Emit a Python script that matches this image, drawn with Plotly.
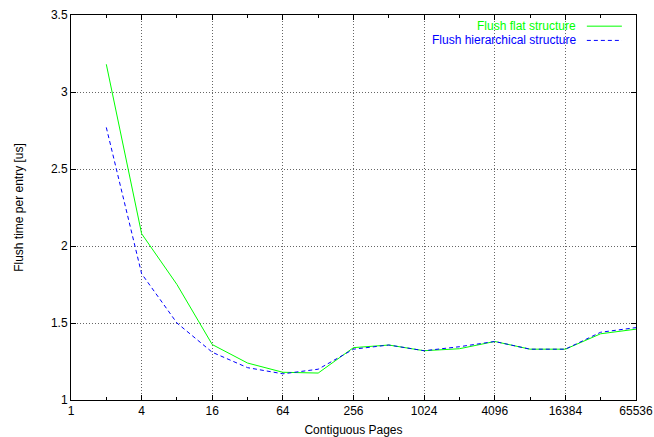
import plotly.graph_objects as go

pages = [2, 4, 8, 16, 32, 64, 128, 256, 512, 1024, 2048, 4096, 8192, 16384, 32768, 65536]
flat = [3.18, 2.08, 1.75, 1.36, 1.24, 1.18, 1.175, 1.34, 1.357, 1.32, 1.333, 1.38, 1.33, 1.33, 1.43, 1.46]
hier = [2.77, 1.82, 1.50, 1.31, 1.21, 1.17, 1.20, 1.33, 1.357, 1.32, 1.346, 1.38, 1.33, 1.33, 1.44, 1.47]
x_ticks = [1, 4, 16, 64, 256, 1024, 4096, 16384, 65536]
x_minor = [2, 8, 32, 128, 512, 2048, 8192, 32768]
y_ticks = [1, 1.5, 2, 2.5, 3, 3.5]
names = ["Flush flat structure", "Flush hierarchical structure"]
colors = ["#00ff00", "#0000ff"]
dashes = ["solid", "4px,3px"]

FONT = "Liberation Sans, Arial, Helvetica, sans-serif"

fig = go.Figure()
for vals, name, col, dsh in zip([flat, hier], names, colors, dashes):
    fig.add_trace(go.Scatter(x=pages, y=vals, mode="lines", name=name,
                             line=dict(color=col, width=1, dash=dsh),
                             showlegend=False))

# legend (text right-aligned, sample line on the right, as gnuplot does)
for i, (name, col, dsh) in enumerate(zip(names, colors, dashes)):
    yp = 0.971 - i * 0.037
    fig.add_annotation(xref="paper", yref="paper", x=0.897, y=yp, text=name,
                       showarrow=False, xanchor="right", yanchor="middle",
                       font=dict(color=col, size=12, family=FONT))
    fig.add_shape(type="line", xref="paper", yref="paper", x0=0.913, x1=0.975,
                  y0=yp, y1=yp, line=dict(color=col, width=1, dash=dsh))

axis_common = dict(showline=True, linecolor="black", linewidth=1, mirror="ticks",
                   ticks="inside", ticklen=5, tickcolor="black", automargin=False,
                   showgrid=True, gridcolor="#666666", griddash="1px,2px", gridwidth=1,
                   zeroline=False, tickfont=dict(size=12, family=FONT, color="black"))

fig.update_xaxes(type="log", range=[0, 4.81648], tickmode="array", tickvals=x_ticks,
                 ticktext=[str(v) for v in x_ticks],
                 minor=dict(tickmode="array", tickvals=x_minor, ticks="inside", ticklen=3,
                            tickcolor="black", showgrid=False),
                 title=dict(text="Contiguous Pages", font=dict(size=12, family=FONT, color="black"),
                            standoff=9),
                 **axis_common)
fig.update_yaxes(range=[1, 3.5], tickmode="array", tickvals=y_ticks,
                 ticktext=["1", "1.5", "2", "2.5", "3", "3.5"],
                 title=dict(text="Flush time per entry [us]", font=dict(size=12, family=FONT, color="black"),
                            standoff=24),
                 **axis_common)

fig.update_layout(width=654, height=437, margin=dict(l=71, r=18, t=15, b=37, autoexpand=False),
                  plot_bgcolor="white", paper_bgcolor="white",
                  font=dict(family=FONT, color="black"))

fig.write_html("out.html", config={"displayModeBar": False},
               post_script="document.body.style.margin='0px';document.body.style.overflow='hidden';")
